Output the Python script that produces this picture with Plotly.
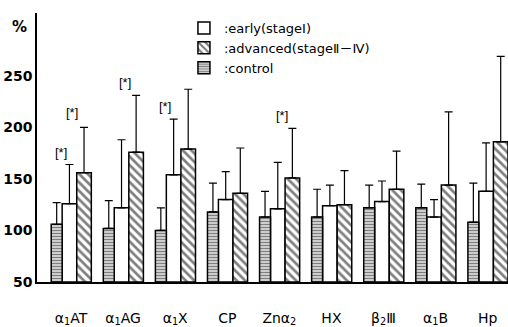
import plotly.graph_objects as go

categories = ["α<sub>1</sub>AT", "α<sub>1</sub>AG", "α<sub>1</sub>X", "CP", "Znα<sub>2</sub>",
              "HX", "β<sub>2</sub>Ⅲ", "α<sub>1</sub>B", "Hp"]
control = [106, 102, 100, 118, 113, 113, 122, 122, 108]
control_top = [127, 129, 122, 146, 138, 140, 144, 145, 146]
early = [126, 122, 154, 130, 121, 124, 128, 113, 138]
early_top = [164, 188, 208, 157, 166, 144, 148, 130, 185]
advanced = [156, 176, 179, 136, 151, 125, 140, 144, 186]
advanced_top = [200, 231, 237, 180, 199, 158, 177, 215, 269]
y_ticks = [50, 100, 150, 200, 250]
# significance markers: (category index, offset, level)
sig_cat = [0, 0, 1, 2, 4]
sig_off = [-0.2, 0.01, 0.03, -0.2, 0.06]
sig_val = [176, 214, 244, 220, 212]

x = list(range(len(categories)))
font = "DejaVu Sans, Noto Sans CJK JP"

def err(tops, vals):
    return [t - v for t, v in zip(tops, vals)]

fig = go.Figure()
common_err = dict(type="data", symmetric=False, thickness=1.2, width=4, color="black")

fig.add_trace(go.Bar(
    x=x, y=[v - 50 for v in early], base=50, name=":early(stageⅠ)",
    offset=-0.17, width=0.28,
    marker=dict(color="white", line=dict(color="black", width=1.5)),
    error_y=dict(array=err(early_top, early), arrayminus=[0] * 9, **common_err),
))
fig.add_trace(go.Bar(
    x=x, y=[v - 50 for v in advanced], base=50, name=":advanced(stageⅡ－Ⅳ)",
    offset=0.11, width=0.28,
    marker=dict(color="white", line=dict(color="black", width=1.5),
                pattern=dict(shape="\\", fgcolor="black", bgcolor="white", size=6, solidity=0.45)),
    error_y=dict(array=err(advanced_top, advanced), arrayminus=[0] * 9, **common_err),
))
fig.add_trace(go.Bar(
    x=x, y=[v - 50 for v in control], base=50, name=":control",
    offset=-0.38, width=0.21,
    marker=dict(color="white", line=dict(color="black", width=1.5),
                pattern=dict(shape="-", fgcolor="#222", bgcolor="#ddd", size=3, solidity=0.45)),
    error_y=dict(array=err(control_top, control), arrayminus=[0] * 9, **common_err),
))

for c, o, v in zip(sig_cat, sig_off, sig_val):
    fig.add_annotation(x=c + o, y=v, text="[*]", showarrow=False,
                       font=dict(family="Liberation Sans", size=13, color="black"))

fig.add_annotation(xref="paper", yref="paper", x=-0.038, xanchor="center", y=0.99, yanchor="top",
                   text="<b>%</b>", showarrow=False, font=dict(family=font, size=15, color="black"))

fig.update_layout(
    width=508, height=327,
    margin=dict(l=37, r=0, t=13, b=37),
    paper_bgcolor="white", plot_bgcolor="white",
    barmode="overlay",
    showlegend=True,
    legend=dict(x=0.312, y=1.0, xanchor="left", yanchor="top",
                font=dict(family=font, size=13, color="black"),
                bgcolor="rgba(0,0,0,0)", tracegroupgap=0, itemwidth=30),
    xaxis=dict(range=[-0.653, 8.39], tickmode="array", tickvals=x, ticktext=categories,
               showline=True, linecolor="black", linewidth=1.5, ticks="",
               showgrid=False, zeroline=False, ticklabelstandoff=22,
               tickfont=dict(family=font, size=14, color="black")),
    yaxis=dict(range=[50, 311], tickmode="array", tickvals=y_ticks,
               ticktext=[f"<b>{t}</b>" for t in y_ticks],
               showline=True, linecolor="black", linewidth=1.5, ticks="",
               showgrid=False, zeroline=False, ticklabelstandoff=0,
               tickfont=dict(family=font, size=14, color="black")),
)

fig.write_html("out.html")
